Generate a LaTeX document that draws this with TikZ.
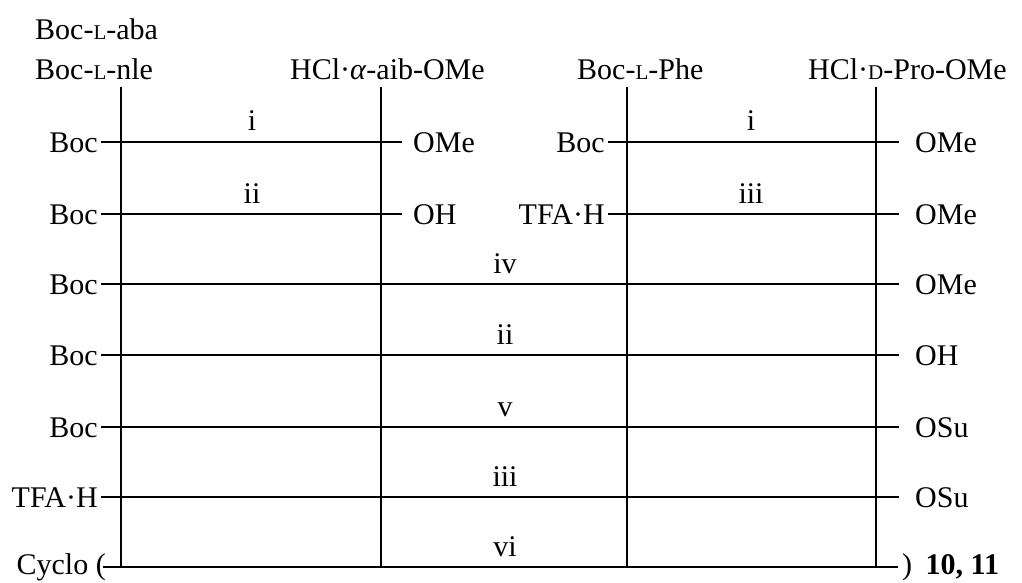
\documentclass[tikz,border=0pt]{standalone}
\usepackage{fontspec}
\setmainfont{Liberation Serif}
\newcommand{\smcap}[1]{{\fontsize{21}{21}\selectfont #1}}
\begin{document}
\begin{tikzpicture}[x=1pt,y=-1pt,
  txt/.style={font=\fontsize{30}{36}\selectfont, inner sep=0pt},
  rowtxt/.style={txt, text height=20pt, text depth=0pt, inner xsep=3pt},
  lefttxt/.style={rowtxt, anchor=east},
  righttxt/.style={rowtxt, anchor=west},
  lbl/.style={txt, anchor=base},
  ln/.style={line width=1.5pt}]
\useasboundingbox (0,0) rectangle (1022,583);
% top labels
\node[txt,anchor=base west] (aba) at (35,40) {Boc-\smcap{L}-aba};
\node[txt,anchor=base west] (nle) at (35,80) {Boc-\smcap{L}-nle};
\node[txt,anchor=base west] (aib) at (290,80) {HCl·\textit{α}-aib-OMe};
\node[txt,anchor=base west] (phe) at (577,80) {Boc-\smcap{L}-Phe};
\node[txt,anchor=base west] (pro) at (808,80) {HCl·\smcap{D}-Pro-OMe};
% vertical lines
\coordinate (v1t) at (121,87); \coordinate (v1b) at (121,567);
\coordinate (v2t) at (381,87); \coordinate (v2b) at (381,567);
\coordinate (v3t) at (627,87); \coordinate (v3b) at (627,567);
\coordinate (v4t) at (876,87); \coordinate (v4b) at (876,567);
\draw[ln] (v1t) -- (v1b);
\draw[ln] (v2t) -- (v2b);
\draw[ln] (v3t) -- (v3b);
\draw[ln] (v4t) -- (v4b);
% row 1
\node[lefttxt] (r1a) at (101,142) {Boc};
\node[righttxt] (r1b) at (410,142) {OMe};
\node[lefttxt] (r1c) at (608,142) {Boc};
\node[righttxt] (r1d) at (912,142) {OMe};
\draw[ln] (r1a.east) -- (402,142) coordinate (r1e);
\draw[ln] (r1c.east) -- (899,142) coordinate (r1f);
\node[lbl] (l1a) at (252,131) {i};
\node[lbl] (l1b) at (751,131) {i};
% row 2
\node[lefttxt] (r2a) at (101,214) {Boc};
\node[righttxt] (r2b) at (410,214) {OH};
\node[lefttxt] (r2c) at (608,214) {TFA·H};
\node[righttxt] (r2d) at (912,214) {OMe};
\draw[ln] (r2a.east) -- (402,214) coordinate (r2e);
\draw[ln] (r2c.east) -- (899,214) coordinate (r2f);
\node[lbl] (l2a) at (252,203) {ii};
\node[lbl] (l2b) at (751,203) {iii};
% row 3
\node[lefttxt] (r3a) at (101,284) {Boc};
\node[righttxt] (r3b) at (912,284) {OMe};
\draw[ln] (r3a.east) -- (899,284) coordinate (r3e);
\node[lbl] (l3) at (505,273) {iv};
% row 4
\node[lefttxt] (r4a) at (101,355) {Boc};
\node[righttxt] (r4b) at (912,355) {OH};
\draw[ln] (r4a.east) -- (899,355) coordinate (r4e);
\node[lbl] (l4) at (505,344) {ii};
% row 5
\node[lefttxt] (r5a) at (101,427) {Boc};
\node[righttxt] (r5b) at (912,427) {OSu};
\draw[ln] (r5a.east) -- (899,427) coordinate (r5e);
\node[lbl] (l5) at (505,416) {v};
% row 6
\node[lefttxt] (r6a) at (101,497) {TFA·H};
\node[righttxt] (r6b) at (912,497) {OSu};
\draw[ln] (r6a.east) -- (899,497) coordinate (r6e);
\node[lbl] (l6) at (505,486) {iii};
% row 7
\node[txt, anchor=base east] (r7a) at (106,574) {Cyclo (};
\node[txt, anchor=base west] (r7b) at (902,574) {)\hspace{0.45em}\textbf{10, 11}};
\coordinate (r7s) at (103,567);
\coordinate (r7e) at (898,567);
\draw[ln] (r7s) -- (r7e);
\node[lbl] (l7) at (505,556) {vi};
\end{tikzpicture}
\end{document}
